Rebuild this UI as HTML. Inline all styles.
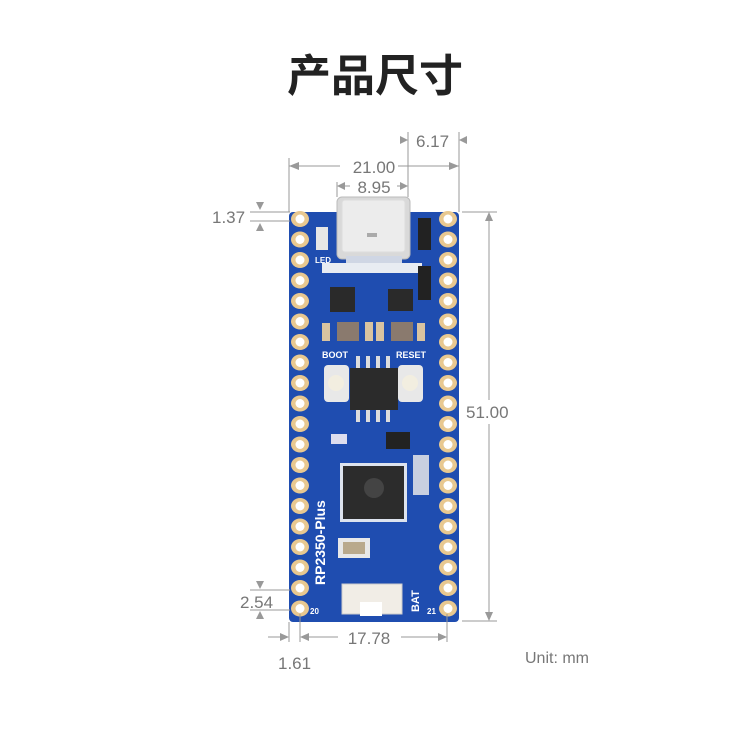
<!DOCTYPE html>
<html><head><meta charset="utf-8"><style>
html,body{margin:0;padding:0;background:#fff;}
body{width:750px;height:731px;overflow:hidden;}
</style></head><body>
<svg width="750" height="731" viewBox="0 0 750 731" xmlns="http://www.w3.org/2000/svg" font-family="Liberation Sans, sans-serif">
<text x="375" y="91" text-anchor="middle" font-size="44" font-weight="bold" fill="#222" font-family="Noto Sans CJK SC, sans-serif">产品尺寸</text>

<rect x="289" y="212" width="170" height="410" rx="4" fill="#1f4db0"/>

<rect x="337" y="197" width="73" height="62" rx="5" fill="#d9d9d9" stroke="#bbb"/>
<rect x="342" y="200" width="63" height="52" rx="3" fill="#ececec" stroke="#ddd"/>
<rect x="367" y="233" width="10" height="4" fill="#aaa"/>
<rect x="346" y="256" width="56" height="7" fill="#cfd6e4"/>
<rect x="322" y="263" width="100" height="10" fill="#e8ecf2"/>
<rect x="316" y="227" width="12" height="23" fill="#e6e6e6"/>
<text x="315" y="263" font-size="8" fill="#fff" font-weight="bold">LED</text>
<rect x="418" y="218" width="13" height="32" fill="#222"/>
<rect x="418" y="266" width="13" height="34" fill="#222"/>
<rect x="330" y="287" width="25" height="25" fill="#2a2a2a"/>
<rect x="388" y="289" width="25" height="22" fill="#2a2a2a"/>
<rect x="337" y="322" width="22" height="19" fill="#8a7a6e"/>
<rect x="391" y="322" width="22" height="19" fill="#8a7a6e"/>
<rect x="365" y="322" width="8" height="19" fill="#d9c3a0"/>
<rect x="376" y="322" width="8" height="19" fill="#d9c3a0"/>
<rect x="322" y="323" width="8" height="18" fill="#d9c3a0"/>
<rect x="417" y="323" width="8" height="18" fill="#d9c3a0"/>
<text x="322" y="358" font-size="9" fill="#fff" font-weight="bold">BOOT</text>
<text x="396" y="358" font-size="9" fill="#fff" font-weight="bold">RESET</text>
<rect x="350" y="368" width="48" height="42" fill="#2b2b2b"/>
<rect x="324" y="365" width="25" height="37" rx="4" fill="#e8e8e8"/>
<rect x="398" y="365" width="25" height="37" rx="4" fill="#e8e8e8"/>
<circle cx="336" cy="383" r="8" fill="#f2eee0"/>
<circle cx="410" cy="383" r="8" fill="#f2eee0"/>
<g fill="#ddd"><rect x="356" y="356" width="4" height="12"/><rect x="366" y="356" width="4" height="12"/><rect x="376" y="356" width="4" height="12"/><rect x="386" y="356" width="4" height="12"/>
<rect x="356" y="410" width="4" height="12"/><rect x="366" y="410" width="4" height="12"/><rect x="376" y="410" width="4" height="12"/><rect x="386" y="410" width="4" height="12"/></g>
<rect x="386" y="432" width="24" height="17" fill="#222"/>
<rect x="331" y="434" width="16" height="10" fill="#dde"/>
<rect x="340" y="463" width="67" height="59" fill="#dde3ee"/>
<rect x="343" y="466" width="61" height="53" fill="#2c2c2c"/>
<circle cx="374" cy="488" r="10" fill="#444"/>
<rect x="413" y="455" width="16" height="40" fill="#c8cfe0"/>
<rect x="338" y="538" width="32" height="20" fill="#e8e8e8"/>
<rect x="343" y="542" width="22" height="12" fill="#b9a98c"/>
<text transform="translate(325,585) rotate(-90)" font-size="14" fill="#fff" font-weight="bold">RP2350-Plus</text>
<text transform="translate(419,612) rotate(-90)" font-size="11" fill="#fff" font-weight="bold">BAT</text>
<rect x="342" y="584" width="60" height="30" fill="#f1ede6" stroke="#ccc"/>
<rect x="360" y="602" width="22" height="14" fill="#fff"/>
<text x="310" y="614" font-size="8" fill="#fff" font-weight="bold">20</text>
<text x="427" y="614" font-size="8" fill="#fff" font-weight="bold">21</text>

<g>
<g fill="#e8c890">
<ellipse cx="300" cy="219" rx="9" ry="8"/><ellipse cx="300" cy="239.5" rx="9" ry="8"/><ellipse cx="300" cy="260" rx="9" ry="8"/><ellipse cx="300" cy="280.5" rx="9" ry="8"/><ellipse cx="300" cy="301" rx="9" ry="8"/><ellipse cx="300" cy="321.5" rx="9" ry="8"/><ellipse cx="300" cy="342" rx="9" ry="8"/><ellipse cx="300" cy="362.5" rx="9" ry="8"/><ellipse cx="300" cy="383" rx="9" ry="8"/><ellipse cx="300" cy="403.5" rx="9" ry="8"/><ellipse cx="300" cy="424" rx="9" ry="8"/><ellipse cx="300" cy="444.5" rx="9" ry="8"/><ellipse cx="300" cy="465" rx="9" ry="8"/><ellipse cx="300" cy="485.5" rx="9" ry="8"/><ellipse cx="300" cy="506" rx="9" ry="8"/><ellipse cx="300" cy="526.5" rx="9" ry="8"/><ellipse cx="300" cy="547" rx="9" ry="8"/><ellipse cx="300" cy="567.5" rx="9" ry="8"/><ellipse cx="300" cy="588" rx="9" ry="8"/><ellipse cx="300" cy="608.5" rx="9" ry="8"/>
<ellipse cx="448" cy="219" rx="9" ry="8"/><ellipse cx="448" cy="239.5" rx="9" ry="8"/><ellipse cx="448" cy="260" rx="9" ry="8"/><ellipse cx="448" cy="280.5" rx="9" ry="8"/><ellipse cx="448" cy="301" rx="9" ry="8"/><ellipse cx="448" cy="321.5" rx="9" ry="8"/><ellipse cx="448" cy="342" rx="9" ry="8"/><ellipse cx="448" cy="362.5" rx="9" ry="8"/><ellipse cx="448" cy="383" rx="9" ry="8"/><ellipse cx="448" cy="403.5" rx="9" ry="8"/><ellipse cx="448" cy="424" rx="9" ry="8"/><ellipse cx="448" cy="444.5" rx="9" ry="8"/><ellipse cx="448" cy="465" rx="9" ry="8"/><ellipse cx="448" cy="485.5" rx="9" ry="8"/><ellipse cx="448" cy="506" rx="9" ry="8"/><ellipse cx="448" cy="526.5" rx="9" ry="8"/><ellipse cx="448" cy="547" rx="9" ry="8"/><ellipse cx="448" cy="567.5" rx="9" ry="8"/><ellipse cx="448" cy="588" rx="9" ry="8"/><ellipse cx="448" cy="608.5" rx="9" ry="8"/>
</g>
<g fill="#fff">
<circle cx="300" cy="219" r="4.5"/><circle cx="300" cy="239.5" r="4.5"/><circle cx="300" cy="260" r="4.5"/><circle cx="300" cy="280.5" r="4.5"/><circle cx="300" cy="301" r="4.5"/><circle cx="300" cy="321.5" r="4.5"/><circle cx="300" cy="342" r="4.5"/><circle cx="300" cy="362.5" r="4.5"/><circle cx="300" cy="383" r="4.5"/><circle cx="300" cy="403.5" r="4.5"/><circle cx="300" cy="424" r="4.5"/><circle cx="300" cy="444.5" r="4.5"/><circle cx="300" cy="465" r="4.5"/><circle cx="300" cy="485.5" r="4.5"/><circle cx="300" cy="506" r="4.5"/><circle cx="300" cy="526.5" r="4.5"/><circle cx="300" cy="547" r="4.5"/><circle cx="300" cy="567.5" r="4.5"/><circle cx="300" cy="588" r="4.5"/><circle cx="300" cy="608.5" r="4.5"/>
<circle cx="448" cy="219" r="4.5"/><circle cx="448" cy="239.5" r="4.5"/><circle cx="448" cy="260" r="4.5"/><circle cx="448" cy="280.5" r="4.5"/><circle cx="448" cy="301" r="4.5"/><circle cx="448" cy="321.5" r="4.5"/><circle cx="448" cy="342" r="4.5"/><circle cx="448" cy="362.5" r="4.5"/><circle cx="448" cy="383" r="4.5"/><circle cx="448" cy="403.5" r="4.5"/><circle cx="448" cy="424" r="4.5"/><circle cx="448" cy="444.5" r="4.5"/><circle cx="448" cy="465" r="4.5"/><circle cx="448" cy="485.5" r="4.5"/><circle cx="448" cy="506" r="4.5"/><circle cx="448" cy="526.5" r="4.5"/><circle cx="448" cy="547" r="4.5"/><circle cx="448" cy="567.5" r="4.5"/><circle cx="448" cy="588" r="4.5"/><circle cx="448" cy="608.5" r="4.5"/>
</g></g>

<g stroke="#999" stroke-width="1" fill="none">
<line x1="289" y1="158" x2="289" y2="212"/><line x1="459" y1="132" x2="459" y2="212"/>
<line x1="408" y1="132" x2="408" y2="197"/><line x1="337" y1="182" x2="337" y2="197"/>
<line x1="289" y1="166" x2="340" y2="166"/><line x1="398" y1="166" x2="459" y2="166"/>
<line x1="345" y1="186" x2="350" y2="186"/><line x1="397" y1="186" x2="402" y2="186"/>
<line x1="250" y1="212" x2="290" y2="212"/><line x1="250" y1="221" x2="290" y2="221"/>
<line x1="462" y1="212" x2="497" y2="212"/><line x1="462" y1="621" x2="497" y2="621"/>
<line x1="489" y1="220" x2="489" y2="400"/><line x1="489" y1="424" x2="489" y2="613"/>
<line x1="250" y1="590" x2="290" y2="590"/><line x1="250" y1="610" x2="290" y2="610"/>
<line x1="289" y1="622" x2="289" y2="642"/><line x1="300" y1="614" x2="300" y2="642"/><line x1="447" y1="614" x2="447" y2="642"/>
<line x1="307" y1="637" x2="338" y2="637"/><line x1="401" y1="637" x2="440" y2="637"/>
<line x1="268" y1="637" x2="283" y2="637"/>
</g>
<g fill="#999">
<polygon points="289,166 299,162 299,170"/><polygon points="459,166 449,162 449,170"/>
<polygon points="337,186 345,182 345,190"/><polygon points="408,186 400,182 400,190"/>
<polygon points="408,140 400,136 400,144"/><polygon points="459,140 467,136 467,144"/>
<polygon points="256,202 264,202 260,210"/><polygon points="256,231 264,231 260,223"/>
<polygon points="489,212 485,221 493,221"/><polygon points="489,621 485,612 493,612"/>
<polygon points="256,581 264,581 260,589"/><polygon points="256,619 264,619 260,611"/>
<polygon points="289,637 280,633 280,641"/><polygon points="300,637 309,633 309,641"/><polygon points="447,637 438,633 438,641"/>
</g>
<g fill="#777" font-size="17">
<text x="416" y="147">6.17</text>
<text x="374" y="173" text-anchor="middle">21.00</text>
<text x="374" y="193" text-anchor="middle">8.95</text>
<text x="212" y="223">1.37</text>
<text x="466" y="418">51.00</text>
<text x="240" y="608">2.54</text>
<text x="369" y="644" text-anchor="middle">17.78</text>
<text x="278" y="669">1.61</text>
<text x="525" y="663" font-size="16">Unit: mm</text>
</g>
</svg>
</body></html>
